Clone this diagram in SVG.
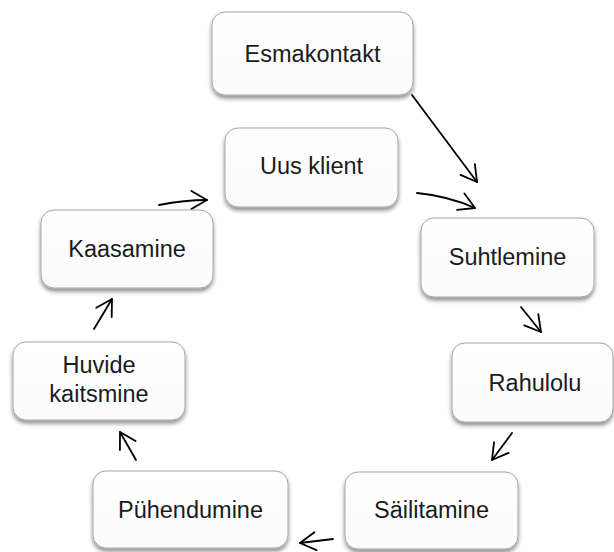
<svg xmlns="http://www.w3.org/2000/svg" width="614" height="552" viewBox="0 0 614 552">
  <style>
    .box { fill: url(#boxFill); stroke: #a6a6a6; stroke-width: 1; filter: url(#shadow); }
    .label { font-family: "Liberation Sans", Arial, sans-serif; font-size: 23.5px; fill: #1a1a1a; text-anchor: middle; }
    .link { fill: none; stroke: #000; stroke-width: 1.8; stroke-linecap: round; marker-end: url(#openArrow); }
  </style>
  <defs>
    <linearGradient id="boxFill" x1="0" y1="0" x2="0" y2="1">
      <stop offset="0" stop-color="#ffffff"/>
      <stop offset="1" stop-color="#fbfbfb"/>
    </linearGradient>
    <filter id="shadow" x="-10%" y="-10%" width="120%" height="130%">
      <feDropShadow dx="0" dy="3" stdDeviation="2" flood-color="#000" flood-opacity="0.45"/>
    </filter>
    <marker id="openArrow" markerUnits="userSpaceOnUse" viewBox="-2 -11 20 22" refX="15.6" refY="0" markerWidth="20" markerHeight="22" orient="auto">
      <path d="M0,-9 L15.6,0 L0,9" fill="none" stroke="#000" stroke-width="1.8" stroke-linecap="round" stroke-linejoin="round"/>
    </marker>
  </defs>

  <g id="connectors">
    <path class="link" d="M412,95 L477,182"/>
    <path class="link" d="M417,193 Q448,196 475,208"/>
    <path class="link" d="M521,307 L541,332"/>
    <path class="link" d="M512,433 L492,460"/>
    <path class="link" d="M333,539 L300,543"/>
    <path class="link" d="M136,460 L120,432"/>
    <path class="link" d="M94,329 L112,299"/>
    <path class="link" d="M159,205 Q185,200 207,200"/>
  </g>

  <g id="esmakontakt">
    <rect class="box" x="212" y="12" width="201" height="83" rx="13"/>
    <text class="label" x="312.5" y="62">Esmakontakt</text>
  </g>
  <g id="uus-klient">
    <rect class="box" x="225" y="128" width="173" height="79" rx="13"/>
    <text class="label" x="311.5" y="174">Uus klient</text>
  </g>
  <g id="suhtlemine">
    <rect class="box" x="421" y="218" width="173" height="79" rx="13"/>
    <text class="label" x="507.5" y="265">Suhtlemine</text>
  </g>
  <g id="rahulolu">
    <rect class="box" x="452" y="343" width="161" height="79" rx="13"/>
    <text class="label" x="535" y="391">Rahulolu</text>
  </g>
  <g id="sailitamine">
    <rect class="box" x="345" y="472" width="173" height="77" rx="13"/>
    <text class="label" x="431.5" y="518">Säilitamine</text>
  </g>
  <g id="puhendumine">
    <rect class="box" x="93" y="471" width="195" height="77" rx="13"/>
    <text class="label" x="190.5" y="518">Pühendumine</text>
  </g>
  <g id="huvide-kaitsmine">
    <rect class="box" x="13" y="342" width="172" height="78" rx="13"/>
    <text class="label" x="99" y="373">Huvide</text>
    <text class="label" x="99" y="402">kaitsmine</text>
  </g>
  <g id="kaasamine">
    <rect class="box" x="41" y="210" width="172" height="78" rx="13"/>
    <text class="label" x="127" y="257">Kaasamine</text>
  </g>
</svg>
